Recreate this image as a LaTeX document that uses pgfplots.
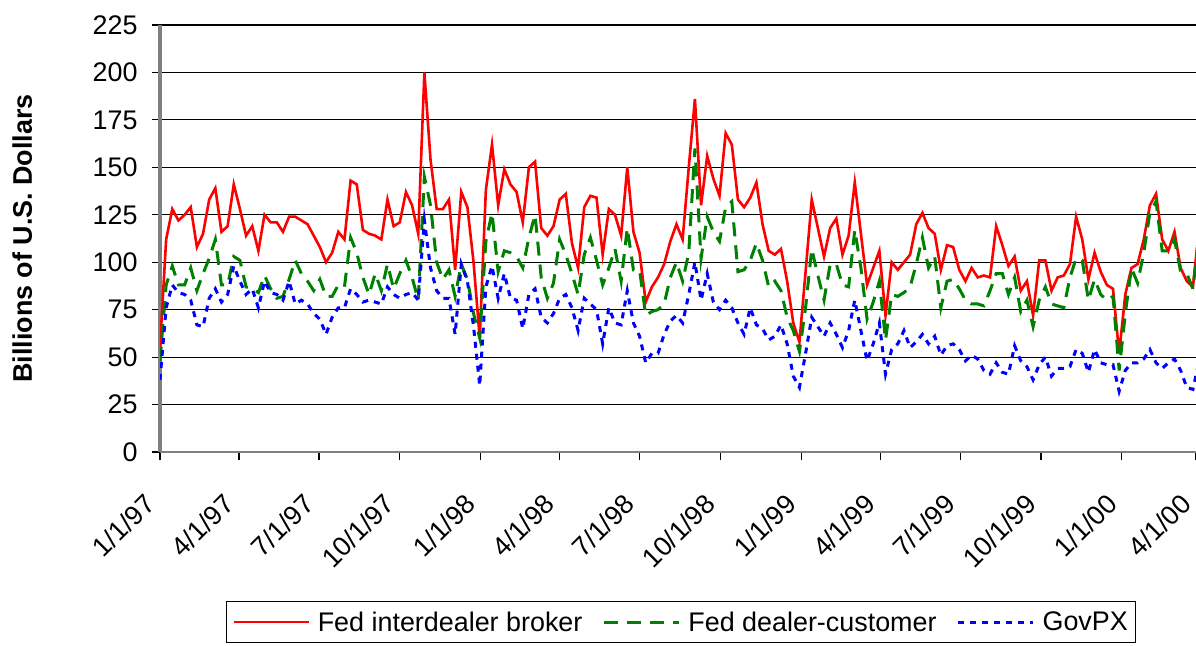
\documentclass[border=0pt]{standalone}
\usepackage{pgfplots}
\usepackage{pgfplotstable}
\pgfplotsset{compat=1.18}
\usepackage{fontspec}
\setmainfont{Liberation Sans}
\definecolor{xred}{RGB}{255,0,0}
\definecolor{xgreen}{RGB}{0,128,0}
\definecolor{xblue}{RGB}{0,0,255}
\pgfplotstableread{
i red green blue
0 55 48 38
1 112 88 76
2 128 98 88
3 122 88 84
4 125 88 83
5 129 97 80
6 108 85 67
7 115 94 66
8 133 102 81
9 139 112 86
10 116 88 79
11 119 88 83
12 141 103 98
13 128 101 90
14 114 87 83
15 119 86 86
16 106 84 76
17 125 93 90
18 121 86 84
19 121 81 83
20 116 82 80
21 124 91 90
22 124 101 78
23 122 94 80
24 120 90 78
25 114 85 73
26 108 91 70
27 100 82 62
28 105 82 71
29 116 88 76
30 112 87 76
31 143 113 86
32 141 105 83
33 117 92 79
34 115 83 80
35 114 94 79
36 112 85 78
37 133 99 87
38 119 86 83
39 121 94 81
40 137 101 83
41 130 92 84
42 115 80 80
43 200 145 122
44 154 130 97
45 128 100 85
46 128 91 81
47 133 96 81
48 96 82 62
49 137 99 99
50 129 91 90
51 100 73 66
52 60 60 35
53 138 111 87
54 162 126 98
55 130 95 81
56 149 106 94
57 141 105 81
58 137 103 80
59 121 97 65
60 150 113 83
61 153 125 86
62 118 92 71
63 114 81 68
64 119 89 73
65 133 112 81
66 136 104 83
67 110 94 76
68 97 83 64
69 129 104 81
70 135 113 78
71 134 101 75
72 104 88 57
73 128 97 76
74 125 107 68
75 114 90 67
76 150 118 85
77 116 96 68
78 105 96 61
79 79 72 47
80 87 74 52
81 92 75 52
82 99 78 62
83 111 92 69
84 120 100 72
85 112 90 68
86 150 105 83
87 186 160 100
88 130 102 80
89 156 124 94
90 144 116 79
91 135 111 75
92 168 129 80
93 162 132 76
94 133 95 68
95 129 96 62
96 134 101 76
97 142 110 67
98 120 101 65
99 106 87 59
100 104 90 61
101 107 85 67
102 90 71 57
103 68 64 40
104 58 53 34
105 95 76 52
106 133 107 71
107 118 93 66
108 103 80 61
109 118 99 68
110 123 99 62
111 104 88 55
112 114 87 64
113 142 117 80
114 115 97 64
115 88 70 48
116 97 79 57
117 106 90 68
118 72 59 41
119 100 83 54
120 96 82 57
121 100 84 64
122 104 87 55
123 120 99 58
124 126 113 62
125 118 97 57
126 115 103 61
127 96 76 51
128 109 90 56
129 108 91 57
130 96 86 54
131 90 80 48
132 97 78 51
133 92 78 49
134 93 77 43
135 92 85 41
136 119 94 47
137 109 94 42
138 98 83 41
139 103 92 56
140 85 74 48
141 90 80 45
142 72 66 38
143 101 80 46
144 101 87 50
145 85 78 40
146 92 77 44
147 93 76 44
148 99 92 45
149 124 102 54
150 112 101 52
151 91 80 42
152 105 91 54
153 95 83 47
154 88 80 46
155 86 82 46
156 52 43 32
157 83 73 43
158 97 97 47
159 99 89 47
160 112 105 49
161 130 126 54
162 136 132 47
163 112 106 44
164 106 106 47
165 116 112 49
166 97 95 43
167 90 94 34
168 87 86 33
169 118 115 48
}\datatable
\begin{document}
\begin{tikzpicture}
\begin{axis}[
  at={(160bp,194bp)}, anchor=south west,
  scale only axis, width=1036bp, height=427bp,
  xmin=0, xmax=168.5, ymin=0, ymax=225,
  ytick={0,25,...,225},
  xtick={0,12.86,25.86,39,52.14,65,78,91.14,104.29,117.14,130.14,143.29,156.43,168.5},
  xticklabels={1/1/97,4/1/97,7/1/97,10/1/97,1/1/98,4/1/98,7/1/98,10/1/98,1/1/99,4/1/99,7/1/99,10/1/99,1/1/00,4/1/00},
  axis x line*=bottom, axis y line*=left,
  x axis line style={draw=gray, line width=2bp},
  y axis line style={draw=gray, line width=3bp},
  ymajorgrids, grid style={black, line width=1.2bp},
  tick align=outside, major tick length=8bp,
  tick style={black, line width=1.2bp},
  /pgf/number format/assume math mode=true,
  yticklabel style={font=\fontsize{27}{32}\selectfont, xshift=-11bp},
  xticklabel style={xshift=-17bp, yshift=-29bp, font=\fontsize{27}{32}\selectfont, rotate=45, anchor=north east, inner sep=2bp},
  ylabel={\bfseries Billions of U.S. Dollars},
  ylabel style={font=\fontsize{27}{32}\selectfont, at={(axis description cs:-0.133,0.5)}, anchor=center},
  legend columns=3,
  legend style={at={(axis description cs:0.5029,-0.349)}, anchor=north, draw=black, line width=1bp,
    font=\fontsize{27}{32}\selectfont, inner xsep=6bp, inner ysep=8bp,
    /tikz/every odd column/.append style={column sep=6bp},
    /tikz/every even column/.append style={column sep=18bp}},
  legend image code/.code={\draw[#1] (0bp,0bp) -- (75bp,0bp);},
]
\addplot[xred, line width=2.6bp] table[x=i, y=red] {\datatable};
\addlegendentry{Fed interdealer broker}
\addplot[xgreen, line width=3bp, dash pattern=on 14bp off 9bp] table[x=i, y=green] {\datatable};
\addlegendentry{Fed dealer-customer}
\addplot[xblue, line width=3bp, dash pattern=on 6bp off 6bp] table[x=i, y=blue] {\datatable};
\addlegendentry{GovPX}
\end{axis}
\pgfresetboundingbox
\useasboundingbox (0,0) rectangle (1196bp,646bp);
\end{tikzpicture}
\end{document}
